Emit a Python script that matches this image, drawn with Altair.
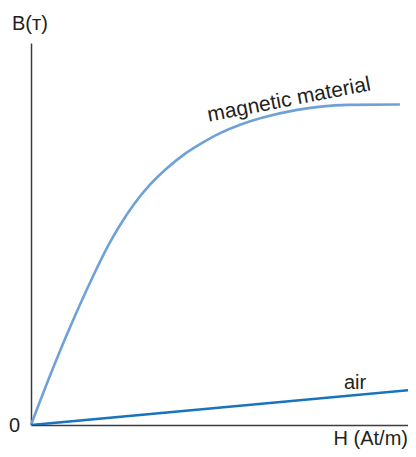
import altair as alt
import pandas as pd

# Magnetisation curve (H, B) in arbitrary units
mag_H = [0, 4.9, 10.1, 15.8, 20.5, 23.1, 26.6, 30.9, 35.3, 39.6, 43.9, 49.1, 54.3, 59.5, 69.1, 82.1, 95.8]
mag_B = [0, 12.8, 25.5, 38.3, 47.8, 52.3, 57.6, 62.9, 67.2, 70.7, 73.5, 76.4, 78.6, 80.3, 82.5, 83.8, 83.9]

# Air: straight line
air_H = [0, 100]
air_B = [0, 9.3]

mag = pd.DataFrame({"H": mag_H, "B": mag_B})
air = pd.DataFrame({"H": air_H, "B": air_B})

FONT = "Liberation Sans"
TXT = "#231f20"
FS = 20

xs = alt.Scale(domain=[0, 97.9], nice=False, zero=False)
ys = alt.Scale(domain=[0, 100], nice=False, zero=False)
ax = alt.Axis(domain=True, domainColor="#3d3d3d", domainWidth=1.5, ticks=False,
              labels=False, grid=False, title=None)

mag_line = alt.Chart(mag).mark_line(color="#6fa1d9", strokeWidth=2.6, interpolate="monotone").encode(
    x=alt.X("H:Q", scale=xs, axis=ax),
    y=alt.Y("B:Q", scale=ys, axis=ax),
)
air_line = alt.Chart(air).mark_line(color="#1a74bc", strokeWidth=2.6, clip=True).encode(
    x=alt.X("H:Q", scale=xs),
    y=alt.Y("B:Q", scale=ys),
)

def label(text, x, y, align="left", baseline="alphabetic", angle=0, size=FS):
    return alt.Chart(pd.DataFrame({"t": [text]})).mark_text(
        font=FONT, fontSize=size, color=TXT, align=align, baseline=baseline, angle=angle,
    ).encode(text="t:N", x=alt.value(x), y=alt.value(y))

labels = [
    label("B(ᴛ)", -19, -13),
    label("0", -11, 383, align="right", baseline="middle"),
    label("H (At/m)", 377, 401.5, align="right"),
    label("air", 313, 346),
    label("magnetic material", 258, 57, align="center", baseline="middle", angle=349, size=21),
]

chart = alt.layer(mag_line, air_line, *labels).properties(
    width=377, height=382,
    padding={"left": 23, "top": 35, "right": 0, "bottom": 24},
    autosize=alt.AutoSizeParams(type="none"),
).configure_view(stroke=None)

chart.save("out.html", embed_options={"renderer": "svg", "actions": False})
